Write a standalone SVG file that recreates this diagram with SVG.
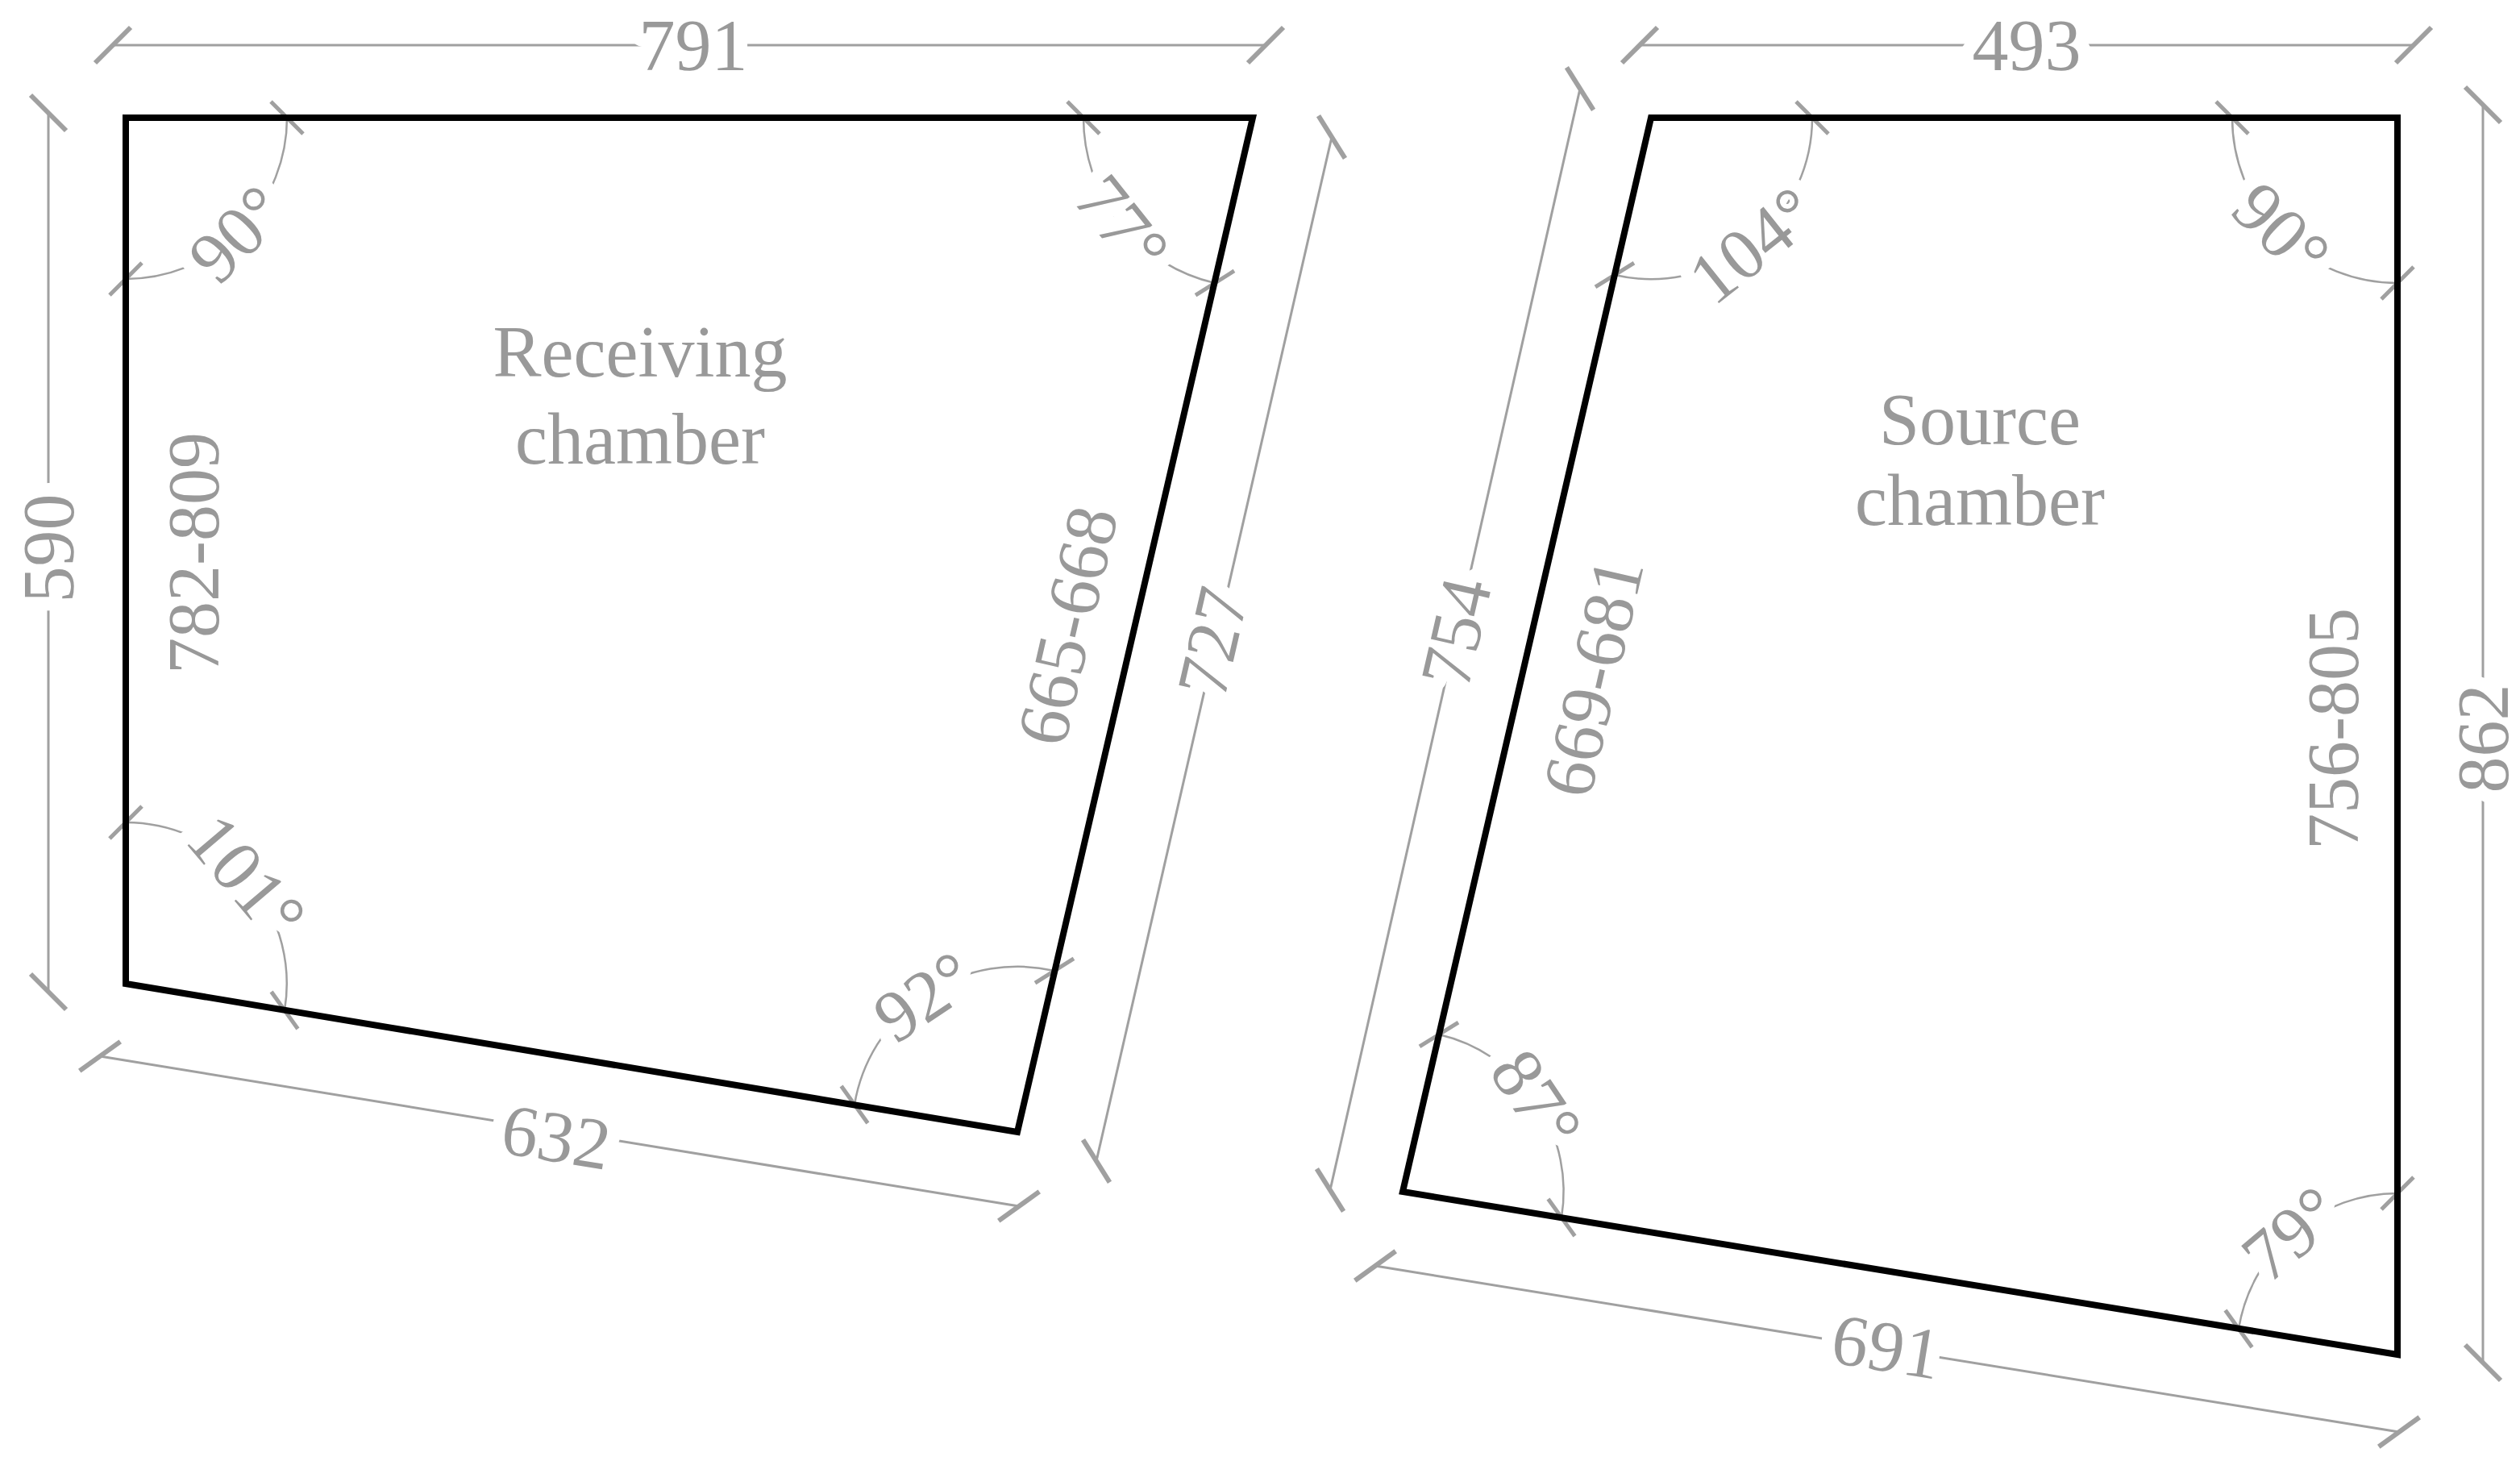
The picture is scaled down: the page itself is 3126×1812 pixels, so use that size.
<svg xmlns="http://www.w3.org/2000/svg" width="3126" height="1812" viewBox="0 0 3126 1812">
<style>
.edge{fill:none;stroke:#000;stroke-width:8;stroke-linejoin:miter}
.dim{fill:none;stroke:#a0a0a0;stroke-width:3;marker-start:url(#tk);marker-end:url(#tk)}
.arc{fill:none;stroke:#a0a0a0;stroke-width:2.5;marker-start:url(#tk2);marker-end:url(#tk2)}
text{font-family:"Liberation Serif","Times New Roman",serif;font-size:90px;fill:#999;text-anchor:middle;dominant-baseline:central}
.h{stroke:#fff;stroke-width:34;paint-order:stroke;stroke-linejoin:round}
</style>
<defs>
<marker id="tk" markerUnits="userSpaceOnUse" orient="auto" markerWidth="80" markerHeight="80" refX="0" refY="0" viewBox="-40 -40 80 80" overflow="visible">
<path d="M-22 22 L22 -22" stroke="#a0a0a0" stroke-width="6" fill="none"/>
</marker>
<marker id="tk2" markerUnits="userSpaceOnUse" orient="auto" markerWidth="80" markerHeight="80" refX="0" refY="0" viewBox="-40 -40 80 80" overflow="visible">
<path d="M-20 20 L20 -20" stroke="#a0a0a0" stroke-width="5" fill="none"/>
</marker>
</defs>
<g id="connectors">
<path class="dim" d="M140 56 L1570 56"/>
<path class="dim" d="M60 140 L60 1230"/>
<path class="dim" d="M124 1310 L1264 1496"/>
<path class="dim" d="M1652 170 L1360 1440"/>
<path class="dim" d="M2034 56 L2994 56"/>
<path class="dim" d="M3080 130 L3080 1690"/>
<path class="dim" d="M1706 1570 L2976 1776"/>
<path class="dim" d="M1960 110 L1650 1476"/>
<path class="arc" d="M356 146 A200 200 0 0 1 156 346"/>
<path class="arc" d="M1507 351 A210 210 0 0 1 1344 146"/>
<path class="arc" d="M1060 1370 A205 205 0 0 1 1308 1204"/>
<path class="arc" d="M156 1020 A200 200 0 0 1 353 1253"/>
<path class="arc" d="M2248 146 A200 200 0 0 1 2003 341"/>
<path class="arc" d="M2974 351 A205 205 0 0 1 2769 146"/>
<path class="arc" d="M2777 1648 A200 200 0 0 1 2974 1480"/>
<path class="arc" d="M1785 1283 A200 200 0 0 1 1937 1510"/>
</g>
<g id="receiving">
<path class="edge" d="M156 146 L1554 146 L1262 1404 L156 1220 Z"/>
<text x="794" y="436">Receiving</text>
<text x="794" y="544">chamber</text>
<text x="240" y="686" transform="rotate(-90 240 686)">782-809</text>
<text x="1324" y="776" transform="rotate(-77 1324 776)">665-668</text>
</g>
<g id="source">
<path class="edge" d="M2048 146 L2974 146 L2974 1680 L1740 1478 Z"/>
<text x="2456" y="520">Source</text>
<text x="2456" y="620">chamber</text>
<text x="1976" y="840" transform="rotate(-77 1976 840)">669-681</text>
<text x="2894" y="904" transform="rotate(-90 2894 904)">756-805</text>
</g>
<g id="labels">
<text class="h" x="860" y="56">791</text>
<text class="h" x="60" y="680" transform="rotate(-90 60 680)">590</text>
<text class="h" x="690" y="1410" transform="rotate(9.3 690 1410)">632</text>
<text class="h" x="1504" y="796" transform="rotate(-77 1504 796)">727</text>
<text class="h" x="2514" y="56">493</text>
<text class="h" x="3080" y="916" transform="rotate(-90 3080 916)">862</text>
<text class="h" x="2340" y="1670" transform="rotate(9.2 2340 1670)">691</text>
<text class="h" x="1806" y="784" transform="rotate(-77 1806 784)">754</text>
<text class="h" x="294" y="290" transform="rotate(-45 294 290)">90°</text>
<text class="h" x="1392" y="278" transform="rotate(51.5 1392 278)">77°</text>
<text class="h" x="1146" y="1236" transform="rotate(-33.7 1146 1236)">92°</text>
<text class="h" x="306" y="1088" transform="rotate(49.7 306 1088)">101°</text>
<text class="h" x="2174" y="304" transform="rotate(-38.5 2174 304)">104°</text>
<text class="h" x="2830" y="286" transform="rotate(45 2830 286)">90°</text>
<text class="h" x="2842" y="1530" transform="rotate(-40.3 2842 1530)">79°</text>
<text class="h" x="1906" y="1364" transform="rotate(56.2 1906 1364)">87°</text>
</g>
</svg>
